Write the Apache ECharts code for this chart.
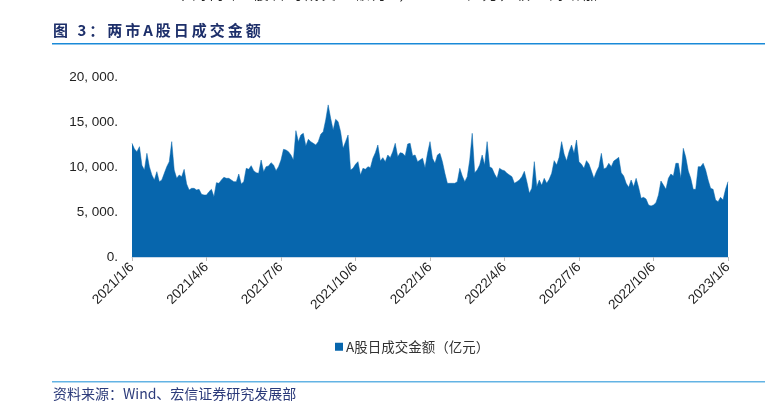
<!DOCTYPE html>
<html>
<head>
<meta charset="utf-8">
<script src="https://cdn.jsdelivr.net/npm/echarts@6/dist/echarts.min.js"></script>
<style>
html,body{margin:0;padding:0;background:#fff;}
#chart{width:776px;height:412px;}
</style>
</head>
<body>
<div id="chart"></div>
<script>
// Tick labels on the category axis (one every quarter)
var tickLabels = ['2021/1/6','2021/4/6','2021/7/6','2021/10/6','2022/1/6','2022/4/6','2022/7/6','2022/10/6','2023/1/6'];
var pointsPerQuarter = 30;

// Daily turnover (亿元), sampled ~every 3 calendar days, one array per quarter
var q2021a = [12631,12000,11704,12260,10186,9667,11519,10038,9112,8556,9482,8371,8556,9297,10038,10593,12816,9667,8741,9112,8926,9741,8112,7445,7630,7630,7445,7519,6964,6890];
var q2021b = [6890,7260,7519,6705,8260,8186,8556,8853,8741,8741,8556,8371,8371,9223,8112,8371,9852,9741,10149,9593,9371,9297,10778,9482,10038,10112,10482,10223,9593,10038];
var q2021c = [10778,11964,11890,11705,11334,10778,14038,12816,13557,13742,12334,13075,12816,12631,12445,12816,13631,13927,15224,16900,15409,14112,15298,15038,13927,12075,12816,13557,9667,9852];
var q2021d = [10297,10593,9112,9852,9741,10038,9927,10964,11593,12445,10667,11038,10593,11334,11038,11704,12631,11149,11593,11519,11223,12557,12631,11260,11334,10593,10778,10964,9927,11519];
var q2022a = [12816,10964,10408,11334,11519,10593,9297,8186,8186,8186,8186,8371,9852,9000,8371,8926,10778,13742,9371,9667,10223,11334,10223,12816,10038,9852,9223,8741,9852,9667];
var q2022b = [9593,9297,9112,8926,8186,8371,8556,8926,9519,8371,7075,7630,10593,7816,8556,7964,8741,8186,8630,9297,10705,10223,11075,12816,11445,10667,11704,12445,11519,13001];
var q2022c = [10593,10297,9852,10705,10334,9556,8741,9482,10038,11519,9778,9927,10408,10038,10667,10853,11075,9371,9000,8186,7741,8556,7816,8741,7741,6519,6630,6445,5778,5667];
var q2022d = [5778,6038,6890,8445,8000,7519,8741,9223,9000,10408,10408,8741,12075,11075,9556,8741,7519,7519,10038,10038,10408,9667,8556,7630,7519,6334,6149,6630,6334,7519,8371];

var values = [].concat(q2021a, q2021b, q2021c, q2021d, q2022a, q2022b, q2022c, q2022d);
var categories = values.map(function (v, i) { return i; });

var seriesName = 'A股日成交金额（亿元）';
var titleText = '图 3：两市A股日成交金额';
var sourceText = '资料来源：Wind、宏信证券研究发展部';
var cutText = '本周两市A股日均成交金额为8,195.26亿元，较上周增加21.86%';

function spaced(s) { return s.split('').join('\u2009'); }

var chart = echarts.init(document.getElementById('chart'), null, {renderer: 'canvas'});

function fmtY(v) {
  var s = String(v).replace(/\B(?=(\d{3})+(?!\d))/g, ', ');
  return s + '.';
}

var option = {
  animation: false,
  backgroundColor: '#ffffff',
  grid: {left: 132, right: 48, top: 77, bottom: 155, containLabel: false},
  legend: {
    data: [seriesName],
    top: 335,
    left: 330,
    icon: 'rect',
    itemWidth: 8,
    itemHeight: 8,
    itemGap: 3,
    textStyle: {fontSize: 13.5, color: '#333', fontFamily: 'Noto Sans CJK SC', padding: [0, 0, 0, -2]}
  },
  xAxis: {
    type: 'category',
    data: categories,
    boundaryGap: false,
    axisLine: {show: true, lineStyle: {color: '#c8d8e8', width: 1}},
    axisTick: {
      show: true,
      interval: function (i) { return i % pointsPerQuarter === 0; },
      length: 4,
      lineStyle: {color: '#bbbbbb'}
    },
    axisLabel: {
      interval: function (i) { return i % pointsPerQuarter === 0; },
      formatter: function (v, i) { return tickLabels[Math.round(i / pointsPerQuarter)] || ''; },
      rotate: 45,
      fontSize: 13.5,
      color: '#222',
      fontFamily: 'Liberation Sans',
      margin: 8
    },
    splitLine: {show: false}
  },
  yAxis: {
    type: 'value',
    min: 0,
    max: 20000,
    interval: 5000,
    axisLine: {show: false},
    axisTick: {show: false},
    splitLine: {show: false},
    axisLabel: {
      formatter: fmtY,
      fontSize: 13.5,
      color: '#222',
      fontFamily: 'Liberation Sans',
      margin: 14
    }
  },
  series: [{
    name: seriesName,
    type: 'line',
    data: values,
    symbol: 'none',
    smooth: false,
    itemStyle: {color: '#0766ad'},
    lineStyle: {width: 0.5, color: '#0766ad'},
    areaStyle: {color: '#0766ad', opacity: 1}
  }],
  graphic: [
    {type: 'text', left: 176, top: -13, style: {text: spaced(cutText), font: '14px "Noto Sans CJK SC"', fill: '#222'}},
    {type: 'text', left: 53, top: 23, style: {text: spaced(titleText), font: 'bold 15px "Noto Sans CJK SC"', fill: '#1d2f6a'}},
    {type: 'rect', shape: {x: 52, y: 43, width: 713, height: 1.5}, style: {fill: '#1a8ad8'}},
    {type: 'rect', shape: {x: 52, y: 381, width: 713, height: 1.5}, style: {fill: '#63b3e4'}},
    {type: 'text', left: 53, top: 387, style: {text: sourceText, font: '14px "Noto Sans CJK SC"', fill: '#2b3a7a'}}
  ]
};
chart.setOption(option);
</script>
</body>
</html>
